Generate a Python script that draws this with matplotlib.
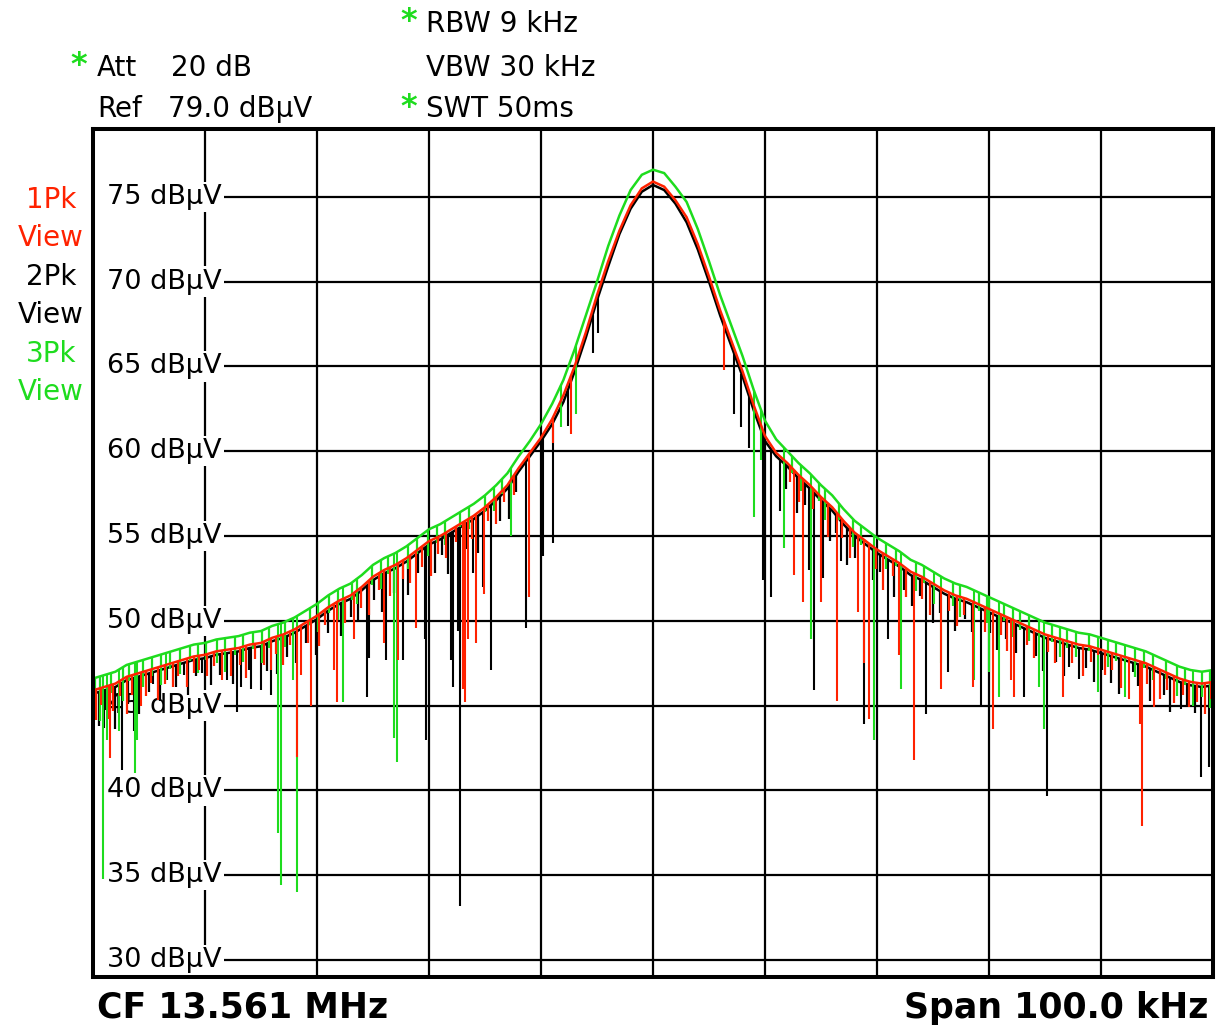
import numpy as np
import matplotlib
matplotlib.use('Agg')
import matplotlib.pyplot as plt

OUT_PNG = 'out.png'

# Frequency offset from the centre frequency, kHz (one point per kHz)
FREQ_KHZ = np.arange(-50, 51)

# Trace levels, dBuV, one value per kHz from -50 to +50
TRACE1_PK = [45.9, 46.1, 46.3, 46.7, 46.9, 47.1, 47.3, 47.5, 47.7, 47.9,
             48.0, 48.2, 48.3, 48.4, 48.6, 48.7, 49.0, 49.2, 49.5, 49.9,
             50.3, 50.8, 51.2, 51.5, 52.0, 52.6, 53.0, 53.3, 53.7, 54.2,
             54.7, 55.0, 55.4, 55.8, 56.2, 56.7, 57.3, 58.0, 59.0, 59.9,
             60.8, 61.9, 63.3, 65.0, 67.0, 69.2, 71.2, 73.0, 74.5, 75.5,
             75.9,
             75.6, 74.8, 73.8, 72.2, 70.3, 68.3, 66.5, 64.7, 62.7, 60.9,
             59.9, 59.3, 58.6, 58.0, 57.3, 56.7, 55.9, 55.2, 54.7, 54.2,
             53.8, 53.4, 52.9, 52.6, 52.2, 51.8, 51.5, 51.3, 51.0, 50.7,
             50.4, 50.1, 49.8, 49.5, 49.2, 49.0, 48.8, 48.6, 48.5, 48.3,
             48.1, 47.9, 47.7, 47.5, 47.2, 46.9, 46.6, 46.4, 46.3, 46.4]

TRACE2_PK = [45.7, 45.9, 46.1, 46.5, 46.7, 46.9, 47.1, 47.3, 47.5, 47.7,
             47.8, 48.0, 48.1, 48.2, 48.4, 48.5, 48.8, 49.0, 49.3, 49.7,
             50.1, 50.6, 51.0, 51.3, 51.8, 52.4, 52.8, 53.1, 53.5, 54.0,
             54.5, 54.8, 55.2, 55.6, 56.0, 56.5, 57.1, 57.8, 58.8, 59.7,
             60.6, 61.6, 62.9, 64.7, 66.7, 68.9, 70.9, 72.8, 74.3, 75.3,
             75.7,
             75.4, 74.6, 73.5, 71.9, 70.0, 68.0, 66.2, 64.4, 62.4, 60.6,
             59.7, 59.1, 58.4, 57.8, 57.1, 56.5, 55.7, 55.0, 54.5, 54.0,
             53.6, 53.2, 52.7, 52.4, 52.0, 51.6, 51.3, 51.1, 50.8, 50.5,
             50.2, 49.9, 49.6, 49.3, 49.0, 48.8, 48.6, 48.4, 48.3, 48.1,
             47.9, 47.7, 47.5, 47.3, 47.0, 46.7, 46.4, 46.2, 46.1, 46.2]

TRACE3_PK = [46.6, 46.8, 47.0, 47.4, 47.6, 47.8, 48.0, 48.2, 48.4, 48.6,
             48.7, 48.9, 49.0, 49.1, 49.3, 49.4, 49.7, 49.9, 50.2, 50.6,
             51.0, 51.5, 51.9, 52.2, 52.7, 53.3, 53.7, 54.0, 54.4, 54.9,
             55.4, 55.7, 56.1, 56.5, 56.9, 57.4, 58.0, 58.7, 59.7, 60.6,
             61.6, 62.8, 64.2, 66.0, 68.0, 70.0, 72.1, 73.9, 75.4, 76.3,
             76.6,
             76.4, 75.6, 74.7, 73.1, 71.2, 69.2, 67.4, 65.6, 63.6, 61.8,
             60.7, 60.0, 59.3, 58.7, 58.0, 57.4, 56.6, 55.9, 55.4, 54.9,
             54.5, 54.1, 53.6, 53.3, 52.9, 52.5, 52.2, 52.0, 51.7, 51.4,
             51.1, 50.8, 50.5, 50.2, 49.9, 49.7, 49.5, 49.3, 49.2, 49.0,
             48.8, 48.6, 48.4, 48.2, 47.9, 47.6, 47.3, 47.1, 47.0, 47.1]

# Deep drop-outs in each trace: (offset kHz, lowest level dBuV)
DIPS1 = [(-48.6, 44.2), (-48.5, 41.9), (-45.7, 45.0), (-40.5, 47.1),
         (-38.5, 46.5), (-34.1, 47.1), (-31.8, 42.0), (-31.4, 46.8),
         (-30.5, 45.0), (-28.5, 47.1), (-28.2, 45.2), (-26.7, 48.9),
         (-24.0, 48.7), (-22.8, 47.7), (-21.2, 49.6), (-17.0, 46.0),
         (-16.8, 45.2), (-16.5, 48.9), (-15.8, 48.7), (-15.1, 51.6),
         (-11.1, 51.4), (-8.9, 60.5), (-7.3, 61.0), (6.3, 64.8),
         (12.6, 52.7), (13.4, 51.1), (15.0, 51.1), (16.4, 45.3),
         (18.3, 50.5), (18.8, 47.5), (19.3, 44.2), (22.0, 48.0),
         (23.3, 41.8), (25.7, 46.0), (28.6, 46.1), (30.4, 43.6),
         (32.0, 46.5), (32.2, 45.5), (36.6, 45.5), (39.7, 48.0),
         (42.5, 45.4), (43.5, 43.9), (43.7, 37.9), (44.7, 44.9)]

DIPS2 = [(-49.0, 43.7), (-47.4, 41.2), (-46.3, 43.5), (-44.6, 46.3),
         (-43.4, 46.5), (-41.9, 46.8), (-40.3, 46.9), (-38.0, 46.5),
         (-37.1, 44.6), (-36.8, 46.1), (-35.9, 46.0), (-35.0, 45.9),
         (-34.1, 45.6), (-25.5, 45.5), (-25.4, 47.8), (-23.8, 47.7),
         (-22.3, 47.7), (-20.4, 48.9), (-20.3, 43.0), (-18.0, 47.7),
         (-17.9, 46.1), (-17.4, 49.4), (-17.2, 33.2), (-16.1, 52.8),
         (-15.2, 52.0), (-14.5, 47.1), (-11.3, 49.6), (-9.8, 53.8),
         (-8.9, 54.6), (-7.6, 61.5), (-5.4, 65.8), (-4.9, 67.0),
         (7.2, 62.2), (7.9, 61.4), (8.6, 60.2), (9.8, 52.4),
         (10.5, 51.4), (11.3, 56.5), (13.9, 53.0), (14.4, 45.9),
         (15.2, 52.5), (16.8, 53.5), (18.8, 43.9), (21.0, 48.9),
         (24.4, 44.5), (26.3, 47.0), (29.3, 44.9), (33.1, 45.5),
         (35.2, 39.7), (37.1, 47.3), (38.0, 46.6), (42.9, 47.0),
         (47.1, 44.8), (48.9, 40.8), (49.6, 41.4)]

DIPS3 = [(-49.1, 34.8), (-48.75, 43.0), (-47.7, 43.5), (-46.25, 41.0),
         (-46.1, 43.0), (-43.5, 46.5), (-33.5, 37.5), (-33.2, 34.4),
         (-32.1, 46.5), (-31.8, 34.0), (-27.7, 45.2), (-23.1, 43.1),
         (-22.9, 41.7), (-12.7, 55.0), (-8.2, 61.4), (-6.9, 62.2),
         (9.0, 56.1), (9.6, 59.5), (11.7, 54.3), (14.1, 48.9),
         (19.7, 43.0), (22.1, 46.0), (25.1, 51.0), (25.7, 47.5),
         (28.7, 46.5), (30.0, 47.0), (30.9, 45.5), (34.5, 46.1),
         (34.9, 43.6), (39.7, 45.8), (42.1, 45.5), (48.2, 45.0)]

# Shallow flicker below each trace in the skirts: (offset kHz, depth dB)
FUZZ1 = [(-49.7, 1.8), (-49.3, 1.0), (-48.2, 1.6), (-47.6, 0.9), (-47.0, 2.2),
         (-46.5, 1.2), (-45.3, 1.5), (-44.8, 0.8), (-44.2, 1.9), (-43.6, 1.1),
         (-42.9, 1.4), (-42.4, 0.9), (-41.6, 1.7), (-41.0, 1.0), (-39.8, 1.3),
         (-39.2, 0.8), (-37.7, 1.6), (-36.9, 1.0), (-36.3, 1.9), (-35.5, 0.9),
         (-34.7, 1.4), (-33.7, 1.0), (-33.0, 1.8), (-32.4, 0.8), (-30.8, 1.3),
         (-29.8, 1.9), (-29.3, 0.9), (-27.5, 1.5), (-26.1, 1.2), (-25.4, 2.0),
         (-24.5, 1.0), (-23.5, 1.7), (-22.3, 1.1), (-21.7, 1.6), (-20.6, 1.2),
         (-19.8, 2.1), (-19.2, 1.0), (-18.5, 1.5), (-17.6, 0.9), (-16.2, 1.3),
         (-14.7, 1.0), (-14.0, 1.6), (-13.3, 0.8), (-12.4, 1.2),
         (12.2, 1.0), (13.0, 1.6), (14.3, 1.2), (15.6, 2.0), (16.9, 1.1),
         (17.6, 1.8), (19.9, 1.2), (20.5, 2.2), (21.4, 1.0), (22.6, 1.7),
         (24.0, 1.3), (24.7, 2.0), (26.4, 1.1), (27.1, 1.8), (27.8, 1.0),
         (29.6, 1.5), (31.1, 1.2), (31.6, 2.0), (33.4, 1.1), (34.0, 1.7),
         (35.3, 1.0), (35.9, 1.5), (37.4, 1.2), (38.4, 1.8), (39.1, 0.9),
         (40.4, 1.4), (41.0, 1.0), (41.8, 1.9), (44.1, 1.2), (45.3, 1.7),
         (45.9, 1.0), (46.5, 1.6), (47.3, 0.9), (47.9, 1.5), (48.6, 1.1),
         (49.3, 1.8), (49.8, 1.0)]

FUZZ2 = [(-49.5, 2.0), (-48.8, 1.2), (-48.0, 2.5), (-46.9, 1.4), (-45.9, 2.2),
         (-45.0, 1.1), (-44.0, 1.8), (-42.6, 1.3), (-41.5, 2.0), (-40.8, 1.0),
         (-39.5, 1.7), (-38.7, 1.2), (-37.5, 1.9), (-36.1, 1.3), (-34.5, 1.6),
         (-33.6, 2.0), (-32.7, 1.2), (-31.9, 1.8), (-31.0, 1.0), (-30.1, 2.1),
         (-29.0, 1.3), (-27.9, 1.9), (-27.0, 1.1), (-26.3, 1.7), (-24.9, 1.2),
         (-24.2, 2.2), (-23.1, 1.4), (-21.9, 2.0), (-21.0, 1.2), (-19.5, 1.8),
         (-18.8, 1.0), (-18.3, 2.3), (-16.6, 1.5), (-15.6, 2.2), (-13.7, 1.4),
         (-12.9, 1.9), (-12.2, 1.0),
         (11.9, 1.4), (12.9, 2.1), (13.6, 1.2), (15.8, 1.9), (16.3, 1.1),
         (17.3, 2.2), (18.0, 1.3), (19.6, 1.8), (20.3, 1.0), (21.5, 2.0),
         (22.4, 1.2), (23.1, 1.8), (23.8, 1.0), (25.0, 2.1), (25.6, 1.3),
         (27.0, 1.9), (27.9, 1.0), (28.5, 1.6), (30.1, 1.2), (30.7, 2.0),
         (31.5, 1.1), (32.4, 1.7), (34.2, 1.3), (34.8, 2.0), (36.0, 1.2),
         (36.7, 1.9), (38.7, 1.1), (39.4, 1.8), (40.1, 1.0), (40.9, 1.6),
         (41.6, 2.1), (43.3, 1.3), (44.4, 1.9), (45.6, 1.2), (46.2, 2.0),
         (47.7, 1.3), (48.4, 1.6), (49.9, 1.1)]

FUZZ3 = [(-49.8, 1.4), (-49.4, 2.6), (-48.4, 1.2), (-47.3, 2.0), (-46.8, 1.0),
         (-45.5, 1.6), (-44.7, 1.1), (-43.9, 1.8), (-43.1, 1.0), (-42.2, 1.5),
         (-41.3, 0.9), (-40.6, 1.7), (-39.9, 1.0), (-38.9, 1.4), (-38.2, 2.0),
         (-37.3, 1.1), (-36.6, 1.6), (-35.7, 1.0), (-34.9, 1.9), (-34.3, 1.2),
         (-32.9, 1.5), (-30.6, 1.0), (-29.9, 1.7), (-28.9, 1.1), (-28.1, 1.8),
         (-26.9, 1.0), (-26.4, 1.5), (-25.1, 1.1), (-24.3, 1.7), (-23.7, 1.0),
         (-21.9, 1.4), (-21.1, 0.9), (-20.1, 1.5), (-19.3, 1.0), (-18.6, 1.4),
         (-17.2, 0.9), (-16.4, 1.3), (-15.0, 1.0), (-14.2, 1.4), (-13.5, 0.9),
         (12.4, 1.0), (13.2, 1.5), (14.8, 1.1), (15.4, 1.8), (16.6, 1.0),
         (17.9, 1.6), (18.6, 1.1), (20.8, 1.5), (21.7, 1.0), (23.5, 1.7),
         (24.2, 1.0), (26.8, 1.4), (27.4, 1.9), (29.1, 1.1), (29.8, 1.6),
         (31.3, 1.0), (32.1, 1.7), (32.8, 1.1), (33.6, 1.5), (35.6, 1.0),
         (36.3, 1.8), (37.0, 1.1), (37.8, 1.5), (38.9, 1.0), (40.6, 1.6),
         (41.3, 1.1), (43.0, 1.7), (43.8, 1.0), (44.6, 1.5), (45.8, 1.1),
         (46.8, 1.8), (47.5, 1.0), (49.0, 1.5), (49.7, 2.2)]

TRACE_NAMES = ['1Pk', '2Pk', '3Pk']
RED = '#ff2200'
BLACK = '#000000'
GREEN = '#1edc1e'

Y_TICKS = [75, 70, 65, 60, 55, 50, 45, 40, 35, 30]
REF_LEVEL = 79.0
SPAN_KHZ = 100.0

W, H = 1220, 1027


def px(x, y):
    '''Pixel position (from top-left) to figure fraction'''
    return x / W, 1 - y / H


def draw_trace(ax, levels, dips, fuzz, colour, z):
    levels = np.array(levels)
    ax.plot(FREQ_KHZ, levels, color=colour, lw=1.8, zorder=z,
            solid_joinstyle='miter')
    # deep drop-outs, given as absolute levels
    f = np.array([d[0] for d in dips])
    low = np.array([d[1] for d in dips])
    top = np.interp(f, FREQ_KHZ, levels)
    ax.vlines(f, low, top, color=colour, lw=1.5, zorder=z)
    # shallow flicker, given as depth below the trace
    f = np.array([d[0] for d in fuzz])
    depth = np.array([d[1] for d in fuzz])
    top = np.interp(f, FREQ_KHZ, levels)
    ax.vlines(f, top - depth, top, color=colour, lw=1.6, zorder=z)


def draw_screen():
    fig = plt.figure(figsize=(W / 100, H / 100), dpi=100)
    ax = fig.add_axes([93 / W, 50 / H, 1120 / W, 848 / H])
    ax.set_xlim(-SPAN_KHZ / 2, SPAN_KHZ / 2)
    ax.set_ylim(REF_LEVEL - 50, REF_LEVEL)
    ax.set_xticks([])
    ax.set_yticks([])
    for sp in ax.spines.values():
        sp.set_linewidth(2.9)
        sp.set_zorder(10)

    # graticule; level lines start right of their labels
    for gx in np.arange(-40, 50, 10):
        ax.axvline(gx, color='black', lw=1.6, zorder=1)
    ax.hlines(Y_TICKS, -38.3, SPAN_KHZ / 2, color='black', lw=1.6, zorder=1)
    for gy in Y_TICKS:
        ax.text(-38.5, gy, '%d dBµV' % gy, ha='right', va='center',
                fontsize=19.5, zorder=2,
                bbox=dict(facecolor='white', edgecolor='none', pad=1.5))

    draw_trace(ax, TRACE2_PK, DIPS2, FUZZ2, BLACK, 3)
    draw_trace(ax, TRACE3_PK, DIPS3, FUZZ3, GREEN, 4)
    draw_trace(ax, TRACE1_PK, DIPS1, FUZZ1, RED, 5)

    # header settings
    hdr = dict(fontsize=20, va='baseline', ha='left')
    star = dict(fontsize=23, color=GREEN, fontweight='bold',
                ha='center', va='center')
    fig.text(*px(79, 65), '*', **star)
    fig.text(*px(97, 76), 'Att', **hdr)
    fig.text(*px(171, 76), '20 dB', **hdr)
    fig.text(*px(97, 117), 'Ref', **hdr)
    fig.text(*px(168, 117), '79.0 dBµV', **hdr)
    fig.text(*px(409, 22), '*', **star)
    fig.text(*px(426, 32), 'RBW 9 kHz', **hdr)
    fig.text(*px(426, 76), 'VBW 30 kHz', **hdr)
    fig.text(*px(409, 108), '*', **star)
    fig.text(*px(426, 117), 'SWT 50ms', **hdr)

    # trace labels down the left edge
    for i, (name, col) in enumerate(zip(TRACE_NAMES, [RED, BLACK, GREEN])):
        y0 = 200 + i * 77
        fig.text(*px(51, y0), name, color=col, fontsize=20,
                 ha='center', va='center')
        fig.text(*px(51, y0 + 38), 'View', color=col, fontsize=20,
                 ha='center', va='center')

    foot = dict(fontsize=25, fontweight='bold', va='baseline')
    fig.text(*px(97, 1018), 'CF 13.561 MHz', ha='left', **foot)
    fig.text(*px(1208, 1018), 'Span %.1f kHz' % SPAN_KHZ, ha='right', **foot)

    fig.savefig(OUT_PNG, dpi=100)


if __name__ == '__main__':
    draw_screen()
